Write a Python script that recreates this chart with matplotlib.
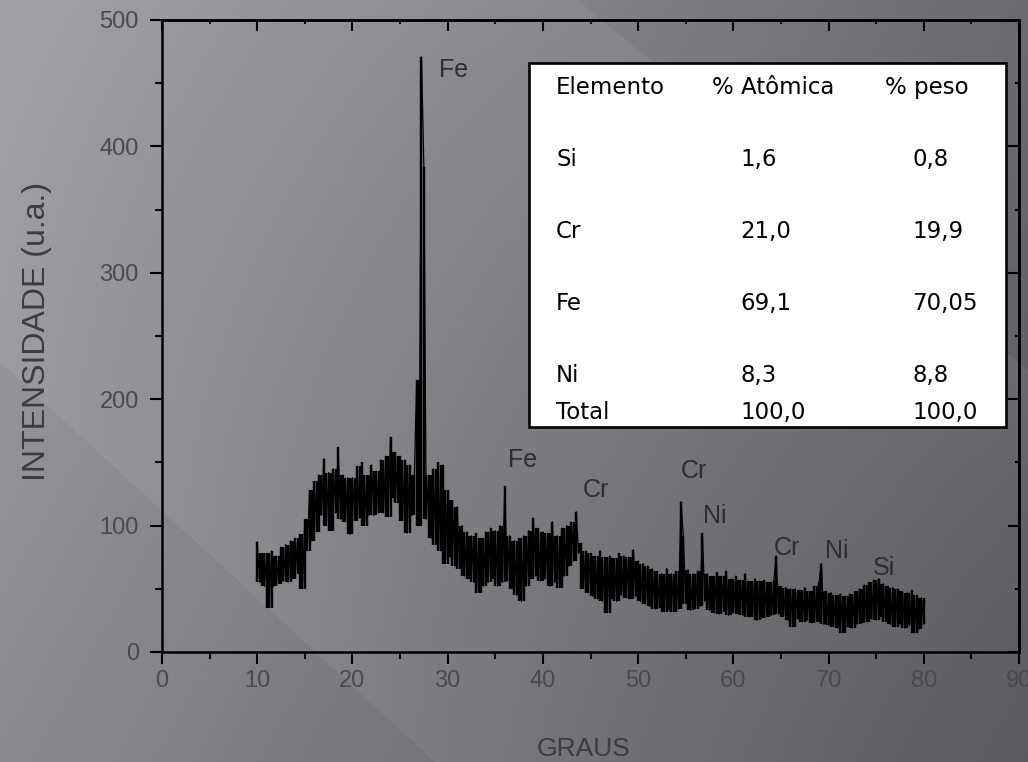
import numpy as np
import matplotlib
matplotlib.use('Agg')
import matplotlib.pyplot as plt
from matplotlib.ticker import MultipleLocator
from matplotlib.patches import Rectangle

plt.rcParams['font.family'] = ['Liberation Sans', 'DejaVu Sans']

# ---------------- data ----------------
# XRD intensity, 4 readings per degree from 10 to 80 (step 0.25)
intensity = [
    87, 55, 78, 52,     # 10
    78, 35, 80, 52,     # 11
    76, 54, 83, 56,     # 12
    85, 55, 88, 58,     # 13
    90, 62, 93, 50,     # 14
    105, 80, 128, 88,   # 15
    135, 95, 140, 108,  # 16
    153, 100, 142, 96,  # 17
    145, 110, 162, 105, # 18
    140, 103, 138, 93,  # 19
    138, 104, 147, 106, # 20
    150, 100, 140, 108, # 21
    148, 108, 143, 110, # 22
    152, 110, 155, 107, # 23
    170, 122, 158, 118, # 24
    155, 104, 152, 94,  # 25
    148, 108, 140, 215, # 26
    100, 471, 384, 105, # 27
    140, 90, 145, 85,   # 28
    150, 80, 148, 70,   # 29
    128, 75, 120, 68,   # 30
    115, 66, 100, 60,   # 31
    95, 58, 92, 55,     # 32
    94, 47, 90, 52,     # 33
    95, 55, 98, 58,     # 34
    96, 52, 100, 55,    # 35
    131, 56, 92, 50,    # 36
    88, 45, 90, 40,     # 37
    92, 52, 96, 58,     # 38
    106, 60, 98, 56,    # 39
    95, 58, 94, 52,     # 40
    103, 55, 92, 51,    # 41
    98, 60, 100, 68,    # 42
    103, 72, 111, 78,   # 43
    86, 50, 80, 47,     # 44
    78, 44, 76, 42,     # 45
    80, 40, 75, 31,     # 46
    76, 42, 74, 40,     # 47
    78, 45, 76, 43,     # 48
    75, 42, 81, 44,     # 49
    72, 40, 70, 38,     # 50
    68, 36, 66, 34,     # 51
    64, 35, 62, 32,     # 52
    66, 33, 62, 32,     # 53
    64, 34, 119, 92,    # 54
    38, 65, 33, 62,     # 55
    34, 64, 36, 94,     # 56
    40, 62, 33, 60,     # 57
    31, 63, 30, 60,     # 58
    32, 64, 29, 58,     # 59
    31, 60, 30, 57,     # 60
    29, 62, 28, 56,     # 61
    28, 58, 25, 56,     # 62
    27, 57, 28, 55,     # 63
    29, 56, 76, 30,     # 64
    52, 28, 51, 25,     # 65
    50, 20, 50, 26,     # 66
    49, 24, 51, 25,     # 67
    48, 23, 52, 24,     # 68
    55, 70, 22, 48,     # 69
    21, 47, 20, 45,     # 70
    19, 46, 15, 44,     # 71
    20, 46, 19, 48,     # 72
    22, 50, 23, 53,     # 73
    24, 55, 26, 57,     # 74
    25, 58, 28, 54,     # 75
    24, 52, 22, 51,     # 76
    20, 50, 22, 48,     # 77
    19, 47, 21, 49,     # 78
    15, 45, 18, 43,     # 79
    22,                 # 80
]
two_theta = np.linspace(10, 80, len(intensity))

x_ticks = [0, 10, 20, 30, 40, 50, 60, 70, 80, 90]
y_ticks = [0, 100, 200, 300, 400, 500]

peak_labels = ['Fe', 'Fe', 'Cr', 'Cr', 'Ni', 'Cr', 'Ni', 'Si']
peak_label_x = [29.1, 36.3, 44.2, 54.5, 56.8, 64.2, 69.6, 74.7]
peak_label_y = [455, 146, 123, 138, 102, 77, 74, 61]

table_header = ['Elemento', '% Atômica', '% peso']
elements = ['Si', 'Cr', 'Fe', 'Ni', 'Total']
atomic_pct = ['1,6', '21,0', '69,1', '8,3', '100,0']
weight_pct = ['0,8', '19,9', '70,05', '8,8', '100,0']

# ---------------- figure ----------------
W, H = 1028, 762
fig = plt.figure(figsize=(W / 100, H / 100), dpi=100)


def fx(px):
    return px / W


def fy(py):
    return 1 - py / H


# background gradient
yy, xx = np.mgrid[0:H, 0:W].astype(float)
u = xx / W
v = yy / H
base = 0.63 * (1 - u) * (1 - v) + 0.42 * u * (1 - v) + 0.55 * (1 - u) * v + 0.35 * u * v


def signed(px, py, x0, y0, x1, y1):
    dx, dy = x1 - x0, y1 - y0
    return ((px - x0) * dy - (py - y0) * dx) / np.hypot(dx, dy)


d1 = signed(xx, yy, 20, 380, 433, 760)
d2 = -signed(xx, yy, 577, 0, 1028, 370)
boost = (0.022 * np.where(d1 > 0, np.exp(-d1 / 180), -0.3)
         + 0.03 * np.where(d2 > 0, np.exp(-d2 / 200), 0))
g = base + boost
img = np.clip(np.dstack([g, g - 0.004, g + 0.014]), 0, 1)
bg = fig.add_axes([0, 0, 1, 1])
bg.imshow(img, aspect='auto', interpolation='bilinear')
bg.axis('off')

# main axes
L, R, T, B = 162, 1019, 20, 652
ax = fig.add_axes([fx(L), fy(B), (R - L) / W, (B - T) / H])
ax.set_facecolor('none')

# dense pattern: each reading drawn as a vertical stroke reaching its neighbours
y = np.asarray(intensity, dtype=float)
prev_y = np.concatenate([[y[1]], y[:-1]])
next_y = np.concatenate([y[1:], [y[-2]]])
reach = np.minimum(prev_y, next_y)
ax.vlines(two_theta, np.minimum(y, reach), np.maximum(y, reach), color='black',
          lw=1.75, zorder=2)
ax.plot(two_theta, intensity, color='black', lw=0.9, zorder=2)

ax.set_xlim(0, 90)
ax.set_ylim(0, 500)
ax.set_xticks(x_ticks)
ax.set_yticks(y_ticks)
ax.xaxis.set_minor_locator(MultipleLocator(5))
ax.yaxis.set_minor_locator(MultipleLocator(50))
for s in ax.spines.values():
    s.set_linewidth(1.8)
    s.set_color('black')
tick_col = '#4a4850'
ax.tick_params(axis='both', which='major', direction='out', length=8.6, width=1.5,
               labelsize=17, labelcolor=tick_col, color='black')
ax.tick_params(axis='both', which='minor', direction='out', length=5, width=1.5, color='black')
ax.tick_params(axis='x', which='major', pad=4.5)
ax.tick_params(axis='y', which='major', pad=8)

secx = ax.secondary_xaxis('top')
secx.set_xticks(x_ticks)
secx.xaxis.set_minor_locator(MultipleLocator(5))
secx.tick_params(axis='x', which='major', direction='in', length=8, width=1.5, labeltop=False)
secx.tick_params(axis='x', which='minor', direction='in', length=3, width=1.5)
secx.spines['top'].set_linewidth(1.8)

secy = ax.secondary_yaxis('right')
secy.set_yticks(y_ticks)
secy.yaxis.set_minor_locator(MultipleLocator(50))
secy.tick_params(axis='y', which='major', direction='in', length=8, width=1.5, labelright=False)
secy.tick_params(axis='y', which='minor', direction='in', length=3, width=1.5)
secy.spines['right'].set_linewidth(1.8)

# peak labels
for lab, px_, py_ in zip(peak_labels, peak_label_x, peak_label_y):
    ax.text(px_, py_, lab, fontsize=18, color='#2c2c33', ha='left', va='baseline', zorder=3)

# axis titles
lab_col = '#3c3a42'
fig.text(fx(37), fy(331), 'INTENSIDADE (u.a.)', rotation=90, ha='center', va='center',
         fontsize=23, color=lab_col)
fig.text(fx(583), fy(749), 'GRAUS', ha='center', va='center', fontsize=19, color=lab_col)

# inset table
tb_l, tb_t, tb_r, tb_b = 529, 63, 1006, 427
fig.patches.append(Rectangle((fx(tb_l), fy(tb_b)), (tb_r - tb_l) / W, (tb_b - tb_t) / H,
                             transform=fig.transFigure, facecolor='white', edgecolor='black',
                             lw=1.9, zorder=5))
tfont = dict(fontsize=16.5, color='black', zorder=6, family=['DejaVu Sans'],
             ha='left', va='baseline')
col_x_header = [556, 712, 885]
for txt, cx in zip(table_header, col_x_header):
    fig.text(fx(cx), fy(94), txt, **tfont)
row_base = [166, 238, 310, 382, 419]
for el, a, w_, rb in zip(elements, atomic_pct, weight_pct, row_base):
    fig.text(fx(556), fy(rb), el, **tfont)
    fig.text(fx(740), fy(rb), a, **tfont)
    fig.text(fx(912), fy(rb), w_, **tfont)

fig.savefig('out.png', dpi=100)
